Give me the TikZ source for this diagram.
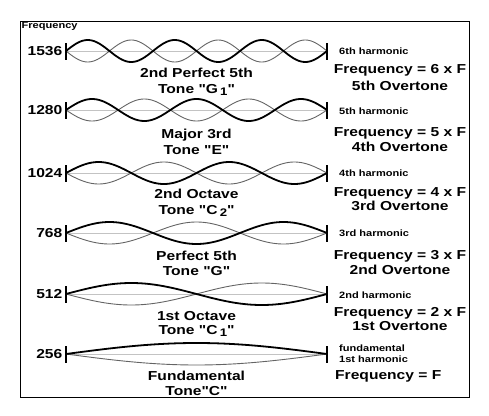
\documentclass[tikz,border=0pt]{standalone}
\usepackage{fontspec}
\setmainfont{Liberation Sans}[FakeStretch=1.2,Ligatures=TeXOff]
\usepackage{xcolor}
\definecolor{linegray}{RGB}{195,195,195}
\definecolor{wavegray}{RGB}{100,100,100}
\newcommand{\lowsub}[1]{\,\raisebox{-0.4ex}{\fontsize{11}{11}\selectfont #1}}
\tikzset{
  biglabel/.style={font=\bfseries\fontsize{13}{15}\selectfont,anchor=base,inner sep=0pt},
  smalllabel/.style={font=\bfseries\fontsize{9.2}{11}\selectfont,anchor=base west,inner sep=0pt},
  numlabel/.style={font=\bfseries\fontsize{13}{15}\selectfont,anchor=east,inner sep=0pt},
  thinwave/.style={wavegray,line width=0.9pt},
  thickwave/.style={black,line width=1.8pt},
  midline/.style={linegray,line width=1pt},
  endbar/.style={black,line width=1.1pt}
}

\begin{document}
\begin{tikzpicture}[x=1pt,y=-1pt]
  \useasboundingbox (0,0) rectangle (489,415);
  \draw[line width=1pt] (20,21) rectangle (469,397);
  \node[smalllabel] (freqaxis) at (21.5,28.5) {Frequency};
  % strings, from the 6th harmonic down to the fundamental
  \foreach \nh/\ypos/\freq in {6/51/1536,5/110/1280,4/173/1024,3/233/768,2/294/512,1/354/256}{
    \coordinate (left\nh) at (66,\ypos);
    \coordinate (right\nh) at (327,\ypos);
    \draw[midline] (left\nh) -- (right\nh);
    \draw[thinwave] plot[domain=0:261,samples=150] ({66+\x},{\ypos+11*sin(\nh*180/261*\x)});
    \draw[thickwave] plot[domain=0:261,samples=150] ({66+\x},{\ypos-11*sin(\nh*180/261*\x)});
    \draw[endbar] ([yshift=-8.5pt]left\nh) -- ([yshift=8.5pt]left\nh);
    \draw[endbar] ([yshift=-8.5pt]right\nh) -- ([yshift=8.5pt]right\nh);
    \node[numlabel] (num\nh) at (62.5,\ypos) {\freq};
  }
  % names under the strings
  \node[biglabel] (name6) at (196.5,77.5) {2nd Perfect 5th};
  \node[biglabel] (tone6) at (196.5,93) {Tone "G\lowsub{1}"};
  \node[biglabel] (name5) at (196.5,138) {Major 3rd};
  \node[biglabel] (tone5) at (196.5,154) {Tone "E"};
  \node[biglabel] (name4) at (196.5,198) {2nd Octave};
  \node[biglabel] (tone4) at (196.5,214) {Tone "C\lowsub{2}"};
  \node[biglabel] (name3) at (196.5,260.5) {Perfect 5th};
  \node[biglabel] (tone3) at (196.5,275) {Tone "G"};
  \node[biglabel] (name2) at (196.5,320) {1st Octave};
  \node[biglabel] (tone2) at (196.5,334) {Tone "C\lowsub{1}"};
  \node[biglabel] (name1) at (196.5,380) {Fundamental};
  \node[biglabel] (tone1) at (196.5,395.5) {Tone"C"};
  % right column
  \node[smalllabel] (harm6) at (339,54.3) {6th harmonic};
  \node[biglabel] (rule6) at (400,73) {Frequency = 6 x F};
  \node[biglabel] (over6) at (400,90) {5th Overtone};
  \node[smalllabel] (harm5) at (339,114.5) {5th harmonic};
  \node[biglabel] (rule5) at (400,136) {Frequency = 5 x F};
  \node[biglabel] (over5) at (400,151.5) {4th Overtone};
  \node[smalllabel] (harm4) at (339,176) {4th harmonic};
  \node[biglabel] (rule4) at (400,196) {Frequency = 4 x F};
  \node[biglabel] (over4) at (400,210) {3rd Overtone};
  \node[smalllabel] (harm3) at (339,236.5) {3rd harmonic};
  \node[biglabel] (rule3) at (400,259) {Frequency = 3 x F};
  \node[biglabel] (over3) at (400,274) {2nd Overtone};
  \node[smalllabel] (harm2) at (339,298) {2nd harmonic};
  \node[biglabel] (rule2) at (400,316) {Frequency = 2 x F};
  \node[biglabel] (over2) at (400,330.5) {1st Overtone};
  \node[smalllabel] (harm1a) at (339,351) {fundamental};
  \node[smalllabel] (harm1b) at (339,362) {1st harmonic};
  \node[biglabel,anchor=base west] (rule1) at (335,379) {Frequency = F};
\end{tikzpicture}
\end{document}
